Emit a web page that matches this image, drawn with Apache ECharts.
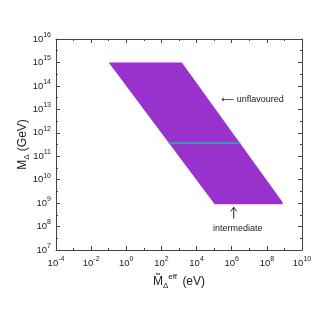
<!DOCTYPE html>
<html>
<head>
<meta charset="utf-8">
<script src="https://cdn.jsdelivr.net/npm/echarts@6/dist/echarts.min.js"></script>
<style>
  html, body { margin: 0; padding: 0; background: #fff; }
  #chart { width: 327px; height: 327px; }
</style>
</head>
<body>
<div id="chart"></div>
<script>
// allowed region (parallelogram) in M_eff (eV) / M_Delta (GeV)
const regionX = [0.1, 1.45e3, 8.1e8, 7.6e8, 1.07e5];
const regionY = [1e15, 1e15, 1.05e9, 8.9e8, 8.9e8];

// horizontal line inside region
const lineX = [2.6e2, 3.1e6];
const lineY = [3.7e11, 3.7e11];

// axis ranges as powers of ten
const xExp = [-4, 10];
const yExp = [7, 16];

// annotations [x, y, text]
const notes = [
  [2.6e5, 2.75e13, '\u27f5 unflavoured'],
  [2.2e6, 8.3e7, 'intermediate']
];
const arrowX = 1.3e6;
const arrowY = [6.6e8, 2.2e8];

const lg = v => Math.log10(v);
const textColor = '#222';
const axisColor = '#444';
const font = 'Liberation Sans, DejaVu Sans';

const powLabel = v => '{b|10}{s|' + v + '}';
const labelRich = {
  b: { fontSize: 9.5, color: textColor, fontFamily: font },
  s: { fontSize: 7, color: textColor, fontFamily: font, padding: [0, 0, 8, 0] }
};

const chart = echarts.init(document.getElementById('chart'));

const baseX = {
  type: 'value', min: xExp[0], max: xExp[1], interval: 2,
  axisLine: { show: true, onZero: false, lineStyle: { color: axisColor, width: 1 } },
  axisTick: { show: true, inside: true, length: 4, lineStyle: { color: axisColor } },
  minorTick: { show: true, splitNumber: 2, length: 2, lineStyle: { color: axisColor } },
  splitLine: { show: false }
};
const baseY = {
  type: 'value', min: yExp[0], max: yExp[1], interval: 1,
  axisLine: { show: true, onZero: false, lineStyle: { color: axisColor, width: 1 } },
  axisTick: { show: true, inside: true, length: 4, lineStyle: { color: axisColor } },
  minorTick: { show: true, splitNumber: 2, length: 2, lineStyle: { color: axisColor } },
  splitLine: { show: false }
};

chart.setOption({
  animation: false,
  grid: { left: 56, top: 39, right: 25, bottom: 77 },
  xAxis: [
    Object.assign({}, baseX, {
      position: 'bottom',
      axisLabel: { formatter: powLabel, rich: labelRich, margin: 6 },
      name: 'M\u0303{sub|\u0394}{sup|eff} (eV)',
      nameLocation: 'middle', nameGap: 23, nameMoveOverlap: false,
      nameTextStyle: {
        fontSize: 12, color: textColor, fontFamily: font,
        rich: {
          sub: { fontSize: 8, color: textColor, fontFamily: font, padding: [8, 0, 0, 0] },
          sup: { fontSize: 8, color: textColor, fontFamily: font, padding: [0, 2, 10, 0] }
        }
      }
    }),
    Object.assign({}, baseX, { position: 'top', axisLabel: { show: false } })
  ],
  yAxis: [
    Object.assign({}, baseY, {
      position: 'left',
      axisLabel: { formatter: powLabel, rich: labelRich, margin: 5 },
      name: 'M{sub|\u0394} (GeV)',
      nameLocation: 'middle', nameGap: 25, nameMoveOverlap: false,
      nameTextStyle: {
        fontSize: 12, color: textColor, fontFamily: font,
        rich: { sub: { fontSize: 8, color: textColor, fontFamily: font, padding: [8, 0, 0, 0] } }
      }
    }),
    Object.assign({}, baseY, { position: 'right', axisLabel: { show: false } })
  ],
  series: [
    {
      type: 'custom',
      data: [[0, 0]],
      renderItem: function (params, api) {
        const pts = regionX.map((x, i) => api.coord([lg(x), lg(regionY[i])]));
        return { type: 'polygon', shape: { points: pts }, style: { fill: '#9932cc' } };
      }
    },
    {
      type: 'line',
      data: lineX.map((x, i) => [lg(x), lg(lineY[i])]),
      symbol: 'none',
      lineStyle: { color: '#3a96ad', width: 2 },
      z: 5
    }
  ]
});

// annotations placed at data positions
const toPx = (x, y) => chart.convertToPixel({ gridIndex: 0 }, [lg(x), lg(y)]);
const graphics = notes.map(n => {
  const p = toPx(n[0], n[1]);
  return {
    type: 'text', x: p[0], y: p[1],
    style: {
      text: n[2], fill: textColor, fontSize: 9, fontFamily: font,
      align: n[2] === 'intermediate' ? 'center' : 'left', verticalAlign: 'middle'
    }
  };
});
const a0 = toPx(arrowX, arrowY[0]);
const a1 = toPx(arrowX, arrowY[1]);
graphics.push({
  type: 'line', shape: { x1: a1[0], y1: a1[1], x2: a0[0], y2: a0[1] },
  style: { stroke: textColor, lineWidth: 1 }
});
graphics.push({
  type: 'polyline',
  shape: { points: [[a0[0] - 3, a0[1] + 4], [a0[0], a0[1]], [a0[0] + 3, a0[1] + 4]] },
  style: { stroke: textColor, lineWidth: 1, fill: null }
});
chart.setOption({ graphic: graphics });
</script>
</body>
</html>
